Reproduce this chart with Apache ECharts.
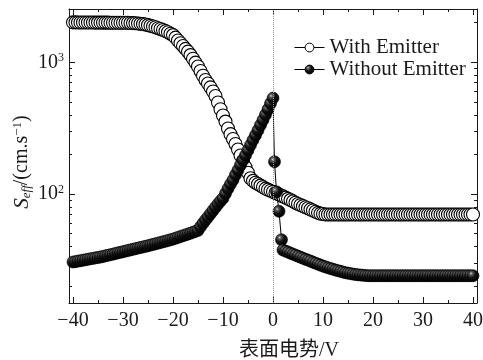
<!DOCTYPE html>
<html>
<head>
<meta charset="utf-8">
<script src="https://cdn.jsdelivr.net/npm/echarts@6.0.0/dist/echarts.min.js"></script>
<style>
html,body{margin:0;padding:0;background:#fff;}
#chart{width:483px;height:360px;}
</style>
</head>
<body>
<div id="chart"></div>
<script>
// ---------- data ----------
const voltage = [
-40,-39.5,-39,-38.5,-38,-37.5,-37,-36.5,-36,-35.5,
-35,-34.5,-34,-33.5,-33,-32.5,-32,-31.5,-31,-30.5,
-30,-29.5,-29,-28.5,-28,-27.5,-27,-26.5,-26,-25.5,
-25,-24.5,-24,-23.5,-23,-22.5,-22,-21.5,-21,-20.5,
-20,-19.5,-19,-18.5,-18,-17.5,-17,-16.5,-16,-15.5,
-15,-14.5,-14,-13.5,-13,-12.5,-12,-11.5,-11,-10.5,
-10,-9.5,-9,-8.5,-8,-7.5,-7,-6.5,-6,-5.5,
-5,-4.5,-4,-3.5,-3,-2.5,-2,-1.5,-1,-0.5,
0,0.5,1,1.5,2,2.5,3,3.5,4,4.5,
5,5.5,6,6.5,7,7.5,8,8.5,9,9.5,
10,10.5,11,11.5,12,12.5,13,13.5,14,14.5,
15,15.5,16,16.5,17,17.5,18,18.5,19,19.5,
20,20.5,21,21.5,22,22.5,23,23.5,24,24.5,
25,25.5,26,26.5,27,27.5,28,28.5,29,29.5,
30,30.5,31,31.5,32,32.5,33,33.5,34,34.5,
35,35.5,36,36.5,37,37.5,38,38.5,39,39.5,
40];

const sWithEmitter = [
2010,2010,2008,2008,2006,2006,2005,2004,2004,2003,
2003,2002,2002,2001,2001,2000,2000,2000,2000,2000,
2000,1998,1995,1990,1985,1978,1970,1960,1950,1935,
1915,1895,1870,1845,1815,1790,1760,1725,1690,1650,
1610,1540,1465,1395,1330,1265,1205,1135,1065,995,
930,860,790,735,690,645,600,555,495,440,
395,355,315,285,262,240,218,196,178,160,
145,132,126,122,119,116,113,110,108,106,
104,102,100,98,96,94,92,90,88,86,
84,82.5,81,79.5,78,76.5,75,73.5,72,71,
70.5,70,70,70,70,70,70,70,70,70,
70,70,70,70,70,70,70,70,70,70,
70,70,70,70,70,70,70,70,70,70,
70,70,70,70,70,70,70,70,70,70,
70,70,70,70,70,70,70,70,70,70,
70,70,70,70,70,70,70,70,70,70,
70];

const voltageWithout = [
-40,-39.5,-39,-38.5,-38,-37.5,-37,-36.5,-36,-35.5,
-35,-34.5,-34,-33.5,-33,-32.5,-32,-31.5,-31,-30.5,
-30,-29.5,-29,-28.5,-28,-27.5,-27,-26.5,-26,-25.5,
-25,-24.5,-24,-23.5,-23,-22.5,-22,-21.5,-21,-20.5,
-20,-19.5,-19,-18.5,-18,-17.5,-17,-16.5,-16,-15.5,
-15,-14.5,-14,-13.5,-13,-12.5,-12,-11.5,-11,-10.5,
-10,-9.5,-9,-8.5,-8,-7.5,-7,-6.5,-6,-5.5,
-5,-4.5,-4,-3.5,-3,-2.5,-2,-1.5,-1,-0.5,
0,0.3,0.7,1.2,1.7,
2,2.5,3,3.5,4,4.5,5,5.5,6,6.5,
7,7.5,8,8.5,9,9.5,10,10.5,11,11.5,
12,12.5,13,13.5,14,14.5,15,15.5,16,16.5,
17,17.5,18,18.5,19,19.5,20,20.5,21,21.5,
22,22.5,23,23.5,24,24.5,25,25.5,26,26.5,
27,27.5,28,28.5,29,29.5,30,30.5,31,31.5,
32,32.5,33,33.5,34,34.5,35,35.5,36,36.5,
37,37.5,38,38.5,39,39.5,40];

const sWithoutEmitter = [
30.5,30.7,31.0,31.2,31.5,31.7,32.0,32.3,32.5,32.8,
33.0,33.3,33.6,34.0,34.3,34.7,35.0,35.4,35.8,36.1,
36.5,36.9,37.3,37.7,38.1,38.5,38.9,39.3,39.7,40.1,
40.5,41.0,41.5,41.9,42.4,42.9,43.4,43.9,44.4,45.0,
45.5,46.2,46.9,47.6,48.3,49.0,49.7,50.5,51.3,52.1,
53.0,56.5,60,63.5,67,71,75,79.5,84,88.5,
93,101,110,119,128,140,152,166,181,197,
215,236,257,280,305,334,365,400,440,487,
535,176,104,74,45,
37.6,36.9,36.3,35.6,35.0,34.4,33.8,33.2,32.6,32.0,
31.5,31.0,30.4,29.9,29.4,28.9,28.4,28.0,27.6,27.2,
26.9,26.5,26.2,25.9,25.6,25.3,25.1,24.9,24.7,24.5,
24.4,24.3,24.2,24.1,24.0,24.0,24.0,24.0,24.0,24.0,
24.0,24.0,24.0,24.0,24.0,24.0,24.0,24.0,24.0,24.0,
24.0,24.0,24.0,24.0,24.0,24.0,24.0,24.0,24.0,24.0,
24.0,24.0,24.0,24.0,24.0,24.0,24.0,24.0,24.0,24.0,
24.0,24.0,24.0,24.0,24.0,24.0,24.0];

const seriesNames = ['With Emitter', 'Without Emitter'];
const xTickLabels = [-40,-30,-20,-10,0,10,20,30,40];
const xMinorTicks = [-35,-25,-15,-5,5,15,25,35];
const yMajorTicks = [100,1000];
const yMinorTicks = [20,30,40,50,60,70,80,90,200,300,400,500,600,700,800,900,2000];
const xTitle = '表面电势/V';

// ---------- chart ----------
const FONT = '"Liberation Serif", "Noto Sans CJK SC", serif';
const INK = '#1a1a1a';
const X_MIN = -40.8, X_MAX = 40.8;
const Y_MIN = 14.9, Y_MAX = 2540;

function xAx(pos, ticks, len, showLine, extra) {
  return Object.assign({
    type: 'value', position: pos, min: X_MIN, max: X_MAX,
    axisLine: {show: showLine, onZero: false, lineStyle: {color: INK, width: 1}},
    axisTick: {show: true, inside: true, length: len, customValues: ticks, lineStyle: {color: INK, width: 1}},
    axisLabel: {show: false},
    splitLine: {show: false}
  }, extra || {});
}
function yAx(pos, ticks, len, showLine, extra) {
  return Object.assign({
    type: 'log', logBase: 10, position: pos, min: Y_MIN, max: Y_MAX,
    axisLine: {show: showLine, onZero: false, lineStyle: {color: INK, width: 1}},
    axisTick: {show: true, inside: true, length: len, customValues: ticks, lineStyle: {color: INK, width: 1}},
    axisLabel: {show: false},
    splitLine: {show: false}
  }, extra || {});
}

const sphere = new echarts.graphic.RadialGradient(0.35, 0.32, 0.7, [
  {offset: 0, color: '#cfcfcf'},
  {offset: 0.18, color: '#5a5a5a'},
  {offset: 0.5, color: '#111'},
  {offset: 1, color: '#000'}
]);

const option = {
  animation: false,
  backgroundColor: '#fff',
  grid: {left: 69, top: 9, width: 408, height: 294, containLabel: false, outerBoundsMode: 'none'},
  xAxis: [
    xAx('bottom', xTickLabels, 6, true, {
      axisLabel: {
        show: true, customValues: xTickLabels, margin: 8,
        fontFamily: FONT, fontSize: 20, color: INK,
        formatter: v => String(v).replace('-', '\u2212')
      },
      name: xTitle, nameLocation: 'middle', nameGap: 38, nameMoveOverlap: false,
      nameTextStyle: {fontFamily: FONT, fontSize: 20, color: INK, padding: [0, 0, 0, 32]}
    }),
    xAx('bottom', xMinorTicks, 3, false),
    xAx('top', xTickLabels, 6, true),
    xAx('top', xMinorTicks, 3, false)
  ],
  yAxis: [
    yAx('left', yMajorTicks, 6, true, {
      axisLabel: {
        show: true, customValues: yMajorTicks, margin: 5,
        formatter: v => '{b|10}{s|' + Math.round(Math.log10(v)) + '}',
        rich: {
          b: {fontFamily: FONT, fontSize: 20, color: INK},
          s: {fontFamily: FONT, fontSize: 12, color: INK, padding: [0, 0, 9, 0]}
        }
      },
      name: '{i|S}{sub|eff}{t|/(cm.s}{sup|\u22121}{t|)}',
      nameLocation: 'middle', nameGap: 36, nameRotate: 90, nameMoveOverlap: false,
      nameTextStyle: {
        fontFamily: FONT, fontSize: 20, color: INK,
        padding: [0, 12, 0, 0],
        rich: {
          i: {fontFamily: FONT, fontSize: 21, fontStyle: 'italic', color: INK},
          sub: {fontFamily: FONT, fontSize: 13, fontStyle: 'italic', color: INK, padding: [9, 0, 0, 0]},
          t: {fontFamily: FONT, fontSize: 20, color: INK},
          sup: {fontFamily: FONT, fontSize: 13, color: INK, padding: [0, 0, 9, 0]}
        }
      }
    }),
    yAx('left', yMinorTicks, 3, false),
    yAx('right', yMajorTicks, 6, true),
    yAx('right', yMinorTicks, 3, false)
  ],
  legend: {
    data: seriesNames,
    orient: 'vertical',
    left: 294, top: 37, padding: 0,
    itemWidth: 30, itemHeight: 11, itemGap: 1,
    lineStyle: {width: 1},
    itemStyle: {borderWidth: 1},
    textStyle: {fontFamily: FONT, fontSize: 21, color: INK, lineHeight: 20},
    selectedMode: false
  },
  series: [
    {
      name: seriesNames[0], type: 'line',
      xAxisIndex: 0, yAxisIndex: 0,
      data: voltage.map((v, i) => [v, sWithEmitter[i]]),
      symbol: 'circle', symbolSize: 13, showAllSymbol: true,
      lineStyle: {color: '#000', width: 1},
      itemStyle: {color: '#fff', borderColor: '#000', borderWidth: 1.1},
      emphasis: {disabled: true},
      z: 2,
      markLine: {
        silent: true, symbol: 'none', label: {show: false},
        lineStyle: {type: 'dotted', color: '#999', width: 1},
        emphasis: {disabled: true},
        data: [{xAxis: 0}]
      }
    },
    {
      name: seriesNames[1], type: 'line',
      xAxisIndex: 0, yAxisIndex: 0,
      data: voltageWithout.map((v, i) => [v, sWithoutEmitter[i]]),
      symbol: 'circle', symbolSize: 12, showAllSymbol: true,
      lineStyle: {color: '#000', width: 1},
      itemStyle: {color: sphere, borderColor: '#000', borderWidth: 0.6},
      emphasis: {disabled: true},
      z: 3
    }
  ]
};

const chart = echarts.init(document.getElementById('chart'), null, {renderer: 'canvas'});
chart.setOption(option);
</script>
</body>
</html>
